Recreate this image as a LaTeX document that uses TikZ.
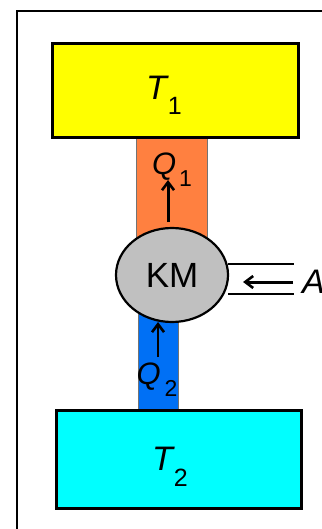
\documentclass[tikz,border=0pt]{standalone}
\usepackage{fontspec}
\setmainfont{Liberation Sans}
\usetikzlibrary{arrows.meta,shapes.geometric}
\definecolor{resyellow}{RGB}{255,255,0}
\definecolor{resorange}{RGB}{255,128,64}
\definecolor{resblue}{RGB}{0,112,245}
\definecolor{rescyan}{RGB}{0,255,255}
\definecolor{resgray}{RGB}{192,192,192}
\begin{document}
\begin{tikzpicture}[x=1pt,y=-1pt,
  reservoir/.style={draw=black,line width=3pt},
  column/.style={draw=black!55,line width=1pt},
  flowarrow/.style={-{Straight Barb[length=8pt,width=12pt,line width=2.6pt]},line width=3pt},
  big/.style={font=\fontsize{34}{34}\selectfont,inner sep=0pt},
  mid/.style={font=\fontsize{31}{31}\selectfont,inner sep=0pt}]
\useasboundingbox (0,0) rectangle (321,529);
\fill[white] (0,0) rectangle (321,529);
% frame
\draw[line width=2.2pt] (17,529) -- (17,11) -- (325,11);
% columns
\draw[column,fill=resorange] (136,138) rectangle (207,250);
\draw[column,fill=resblue] (138,300) rectangle (178,410);
% reservoirs
\node[reservoir,fill=resyellow,minimum width=246pt,minimum height=94pt,inner sep=0pt] (hot) at (175,91) {};
\node[reservoir,fill=rescyan,minimum width=245pt,minimum height=98pt,inner sep=0pt] (cold) at (178.5,459) {};
% engine
\node[draw=black,line width=2.2pt,fill=resgray,ellipse,minimum width=112pt,minimum height=94pt,inner sep=0pt] (km) at (172,275) {};
\node[font=\fontsize{35}{35}\selectfont,inner sep=0pt] (kmt) at (172,275) {KM};
% work lines
\coordinate (wt) at (294,264);
\coordinate (wb) at (294,294);
\draw[line width=1.2pt] (km.east |- wt) ++(-1,0) -- (wt);
\draw[line width=1.2pt] (km.east |- wb) ++(-1,0) -- (wb);
\coordinate (as) at (293,282);
\coordinate (ae) at (243,282);
\draw[flowarrow] (as) -- (ae);
\node[big,anchor=west] (A) at (302,282) {\textit{A}};
% labels
\node[big] (t1) at (164,95) {\textit{T}\kern-1pt\raisebox{-15pt}{\fontsize{25}{25}\selectfont 1}};
\node[big] (t2) at (170,467) {\textit{T}\kern-1pt\raisebox{-16pt}{\fontsize{25}{25}\selectfont 2}};
\node[mid] (q1) at (172,170) {\textit{Q}\kern3pt\raisebox{-12pt}{\fontsize{23}{23}\selectfont 1}};
\node[mid] (q2) at (157,380) {\textit{Q}\kern4pt\raisebox{-12pt}{\fontsize{23}{23}\selectfont 2}};
% heat arrows
\coordinate (q1s) at (168,222);
\coordinate (q1e) at (168,180);
\draw[flowarrow] (q1s) -- (q1e);
\coordinate (q2s) at (158,357);
\coordinate (q2e) at (158,322);
\draw[flowarrow,line width=2.4pt] (q2s) -- (q2e);
\end{tikzpicture}
\end{document}
